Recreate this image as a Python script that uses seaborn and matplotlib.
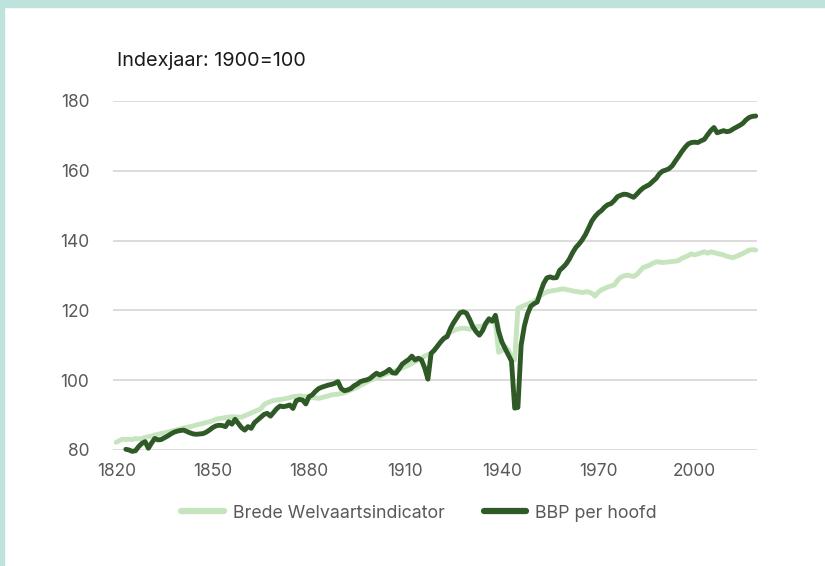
import numpy as np
import pandas as pd
import matplotlib
matplotlib.use("Agg")
import matplotlib.pyplot as plt
import seaborn as sns
from matplotlib.patches import Rectangle

years_bbp = list(range(1823, 2020))
bbp = [
    80.2, 80.0, 79.6, 79.8, 81.0, 81.9, 82.4, 80.5, 82.0, 83.3,   # 1823-1832
    82.9, 83.0, 83.5, 84.0, 84.6, 85.1, 85.4, 85.6, 85.7, 85.3,   # 1833-1842
    84.9, 84.6, 84.5, 84.6, 84.7, 85.1, 85.7, 86.4, 86.9, 87.1,   # 1843-1852
    87.0, 86.7, 88.1, 87.4, 88.8, 87.6, 86.4, 85.7, 86.7, 86.2,   # 1853-1862
    87.8, 88.6, 89.4, 90.2, 90.5, 89.7, 90.8, 91.9, 92.6, 92.4,   # 1863-1872
    92.6, 92.9, 91.9, 94.1, 94.5, 94.3, 93.2, 95.3, 95.8, 96.8,   # 1873-1882
    97.6, 98.0, 98.3, 98.6, 98.8, 99.1, 99.6, 97.6, 97.0, 97.2,   # 1883-1892
    97.6, 98.4, 98.9, 99.6, 99.9, 100.1, 100.5, 101.3, 102.0, 101.5,  # 1893-1902
    101.9, 102.4, 103.1, 102.1, 102.0, 103.2, 104.6, 105.3, 105.9, 106.9,  # 1903-1912
    105.8, 106.3, 105.8, 103.5, 100.3, 107.7, 108.6, 109.8, 111.0, 112.0,  # 1913-1922
    112.5, 114.8, 116.5, 117.9, 119.3, 119.6, 119.2, 117.4, 115.3, 113.9,  # 1923-1932
    112.9, 114.2, 116.3, 117.6, 116.9, 118.6, 114.0, 111.0, 109.1, 107.3,  # 1933-1942
    105.5, 92.0, 92.2, 110.0, 115.5, 119.0, 121.2, 121.9, 122.4, 125.2,    # 1943-1952
    127.7, 129.3, 129.6, 129.3, 129.4, 131.5, 132.3, 133.3, 134.7, 136.5,  # 1953-1962
    138.0, 139.0, 140.2, 141.7, 143.6, 145.6, 146.9, 147.9, 148.6, 149.6,  # 1963-1972
    150.3, 150.6, 151.5, 152.6, 153.0, 153.3, 153.2, 152.8, 152.4, 153.3,  # 1973-1982
    154.3, 155.1, 155.6, 156.1, 157.0, 157.8, 159.1, 159.9, 160.2, 160.6,  # 1983-1992
    161.4, 162.8, 164.1, 165.5, 166.7, 167.7, 168.1, 168.2, 168.1, 168.6,  # 1993-2002
    169.0, 170.3, 171.5, 172.4, 170.9, 171.2, 171.5, 171.2, 171.4, 172.0,  # 2003-2012
    172.5, 173.0, 173.6, 174.6, 175.3, 175.6, 175.7,                       # 2013-2019
]

years_bwi = list(range(1820, 2020))
bwi = [
    82.2, 82.7, 83.1, 83.0, 83.1, 83.0, 83.3, 83.2, 83.3, 83.6,   # 1820-1829
    83.8, 84.0, 84.3, 84.5, 84.7, 84.9, 85.1, 85.4, 85.6, 85.8,   # 1830-1839
    86.0, 86.3, 86.5, 86.7, 86.9, 87.2, 87.4, 87.6, 87.9, 88.1,   # 1840-1849
    88.4, 88.8, 89.0, 89.1, 89.3, 89.4, 89.5, 89.5, 89.4, 89.4,   # 1850-1859
    89.8, 90.2, 90.6, 91.0, 91.4, 91.8, 93.0, 93.5, 93.9, 94.2,   # 1860-1869
    94.3, 94.5, 94.6, 94.8, 95.0, 95.3, 95.4, 95.5, 95.4, 95.3,   # 1870-1879
    95.1, 95.0, 94.9, 94.8, 95.0, 95.3, 95.5, 95.8, 95.9, 96.0,   # 1880-1889
    96.2, 96.4, 96.8, 97.2, 97.6, 98.0, 98.5, 99.0, 99.5, 99.9,   # 1890-1899
    100.3, 100.7, 101.0, 101.4, 101.8, 102.1, 102.4, 102.8, 103.1, 103.5,  # 1900-1909
    103.9, 104.3, 104.8, 105.3, 105.8, 106.3, 106.9, 107.3, 107.7, 108.7,  # 1910-1919
    109.8, 111.0, 112.0, 113.0, 113.7, 114.2, 114.6, 114.8, 114.9, 114.8,  # 1920-1929
    114.6, 115.0, 115.3, 115.4, 115.5, 116.1, 116.8, 117.1, 116.5, 108.0,  # 1930-1939
    108.5, 109.6, 108.7, 106.7, 105.8, 120.6, 121.0, 121.4, 121.8, 122.2,  # 1940-1949
    122.5, 123.2, 124.2, 124.8, 125.3, 125.5, 125.7, 125.8, 126.0, 126.2,  # 1950-1959
    126.0, 125.8, 125.6, 125.4, 125.3, 125.1, 125.3, 125.3, 124.9, 124.1,  # 1960-1969
    125.2, 125.9, 126.3, 126.7, 127.0, 127.3, 128.6, 129.5, 129.9, 130.1,  # 1970-1979
    129.9, 129.7, 130.3, 131.3, 132.3, 132.6, 133.0, 133.5, 133.9, 133.9,  # 1980-1989
    133.7, 133.8, 133.9, 134.0, 134.1, 134.3, 134.9, 135.3, 135.7, 136.2,  # 1990-1999
    135.9, 136.2, 136.5, 136.8, 136.4, 136.8, 136.6, 136.3, 136.1, 135.9,  # 2000-2009
    135.5, 135.3, 135.1, 135.5, 135.9, 136.3, 136.8, 137.3, 137.4, 137.3,  # 2010-2019
]

x_ticks = [1820, 1850, 1880, 1910, 1940, 1970, 2000]
y_ticks = [80, 100, 120, 140, 160, 180]
label_bwi = "Brede Welvaartsindicator"
label_bbp = "BBP per hoofd"
title = "Indexjaar: 1900=100"

sns.set_style("white")
plt.rcParams['font.family'] = ['Inter', 'DejaVu Sans']

DARK = "#2F5A28"
LIGHT = "#C6E4BE"
GRAY = "#595959"

fig = plt.figure(figsize=(8.25, 5.66), dpi=100)
fig.patch.set_facecolor("white")
ax = fig.add_axes([113/825, 1-450/566, (757-113)/825, (450-101)/566])

df_bwi = pd.DataFrame({"jaar": years_bwi, "waarde": bwi})
df_bbp = pd.DataFrame({"jaar": years_bbp, "waarde": bbp})

sns.lineplot(data=df_bwi, x="jaar", y="waarde", ax=ax, color=LIGHT, lw=3.5,
             label=label_bwi, solid_capstyle="round", solid_joinstyle="round", clip_on=False)
sns.lineplot(data=df_bbp, x="jaar", y="waarde", ax=ax, color=DARK, lw=3.5,
             label=label_bbp, solid_capstyle="round", solid_joinstyle="round", clip_on=False)

ax.set_xlim(1819, 2019.4)
ax.set_ylim(80, 180)
ax.set_xticks(x_ticks)
ax.set_yticks(y_ticks)
ax.set_xlabel("")
ax.set_ylabel("")
ax.grid(axis="y", color="#D9D9D9", lw=1.3)
ax.grid(axis="x", visible=False)
ax.set_axisbelow(True)
for s in ax.spines.values():
    s.set_visible(False)
ax.tick_params(axis="both", length=0, labelsize=12.5, labelcolor=GRAY)
ax.tick_params(axis="y", pad=17)
ax.tick_params(axis="x", pad=9)

ax.legend_.remove()
h, l = ax.get_legend_handles_labels()
leg = fig.legend(h, l, loc="center", bbox_to_anchor=(419/825, 1-513/566), ncol=2,
                 frameon=False, fontsize=12.8, handlelength=2.4, columnspacing=2.2,
                 handletextpad=0.5)
for t in leg.get_texts():
    t.set_color(GRAY)
for ln in leg.get_lines():
    ln.set_linewidth(4.5)

fig.text(117/825, 1-61/566, title, fontsize=14.3, color="#1a1a1a", va="center", ha="left")

# frame border (top and left)
fig.patches.append(Rectangle((0, 1-7/566), 1, 7/566, transform=fig.transFigure,
                             color="#BEE3DC", zorder=0))
fig.patches.append(Rectangle((0, 0), 4/825, 1, transform=fig.transFigure,
                             color="#BEE3DC", zorder=0))

fig.savefig("out.png", dpi=100, facecolor="white")
